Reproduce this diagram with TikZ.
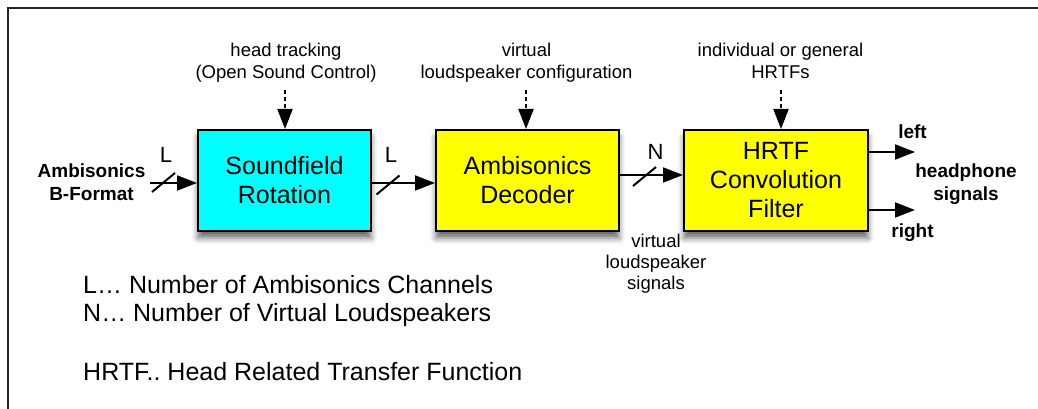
\documentclass[tikz,border=0pt]{standalone}
\usepackage{fontspec}
\setmainfont{Liberation Sans}
\usetikzlibrary{arrows.meta,calc,shadows.blur}
\definecolor{rotcyan}{RGB}{0,255,255}
\definecolor{blockyellow}{RGB}{255,255,0}
\frenchspacing

\tikzset{
  block/.style={draw=black, line width=2pt, minimum height=101pt, inner sep=0pt,
    align=center, font=\fontsize{25}{29}\selectfont,
    blur shadow={shadow xshift=0pt, shadow yshift=-7pt, shadow blur radius=6pt, shadow opacity=60}},
  flow/.style={line width=2pt, -{Triangle[length=20pt,width=15pt]}},
  ctrl/.style={line width=2pt, dash pattern=on 4pt off 3pt, -{Triangle[length=20pt,width=15pt]}},
  note/.style={align=center, inner sep=0pt, font=\fontsize{18.5}{22}\selectfont},
  tag/.style={align=center, inner sep=0pt, font=\bfseries\fontsize{19}{23}\selectfont},
  bus/.style={inner sep=0pt, font=\fontsize{22}{26}\selectfont},
  legend/.style={anchor=base west, inner sep=0pt, font=\fontsize{25}{29}\selectfont},
}

\begin{document}
\begin{tikzpicture}[x=1pt,y=-1pt]
  \useasboundingbox (0,0) rectangle (1038,409);
  \draw[line width=2pt, black!85] (8,409) -- (8,8) -- (1038,8);

  % processing blocks
  \node[block, fill=rotcyan, minimum width=173pt] (rot) at (284.5,180.5) {Soundfield\\Rotation};
  \node[block, fill=blockyellow, minimum width=183pt] (dec) at (527.5,180.5) {Ambisonics\\Decoder};
  \node[block, fill=blockyellow, minimum width=184pt] (hrtf) at (776,180.5) {HRTF\\Convolution\\Filter};

  % control inputs
  \node[note] (trk) at (286,62.5) {head tracking\\(Open Sound Control)};
  \node[note] (cfg) at (526.5,62.5) {virtual\\loudspeaker configuration};
  \node[note] (hrtfs) at (780.5,60.5) {individual or general\\HRTFs};
  \coordinate (trkin) at (285,90);
  \coordinate (cfgin) at (526,90);
  \coordinate (hrtfin) at (781,90);
  \draw[ctrl] (trkin) -- (trkin |- rot.north);
  \draw[ctrl] (cfgin) -- (cfgin |- dec.north);
  \draw[ctrl] (hrtfin) -- (hrtfin |- hrtf.north);

  % signal path
  \node[tag] (src) at (91.5,182) {Ambisonics\\B-Format};
  \coordinate (bin) at (150,183);
  \draw[flow] (bin) -- (bin -| rot.west);
  \draw[flow] ([yshift=-2.5pt]rot.east) -- ([yshift=-2.5pt]dec.west);
  \draw[flow] ([yshift=5.5pt]dec.east) -- ([yshift=5.5pt]hrtf.west);
  \foreach \x/\y in {163.5/182.5, 388/185, 644.5/176.5}
    \draw[line width=2pt] (\x-11.5,\y+9.5) -- (\x+11.5,\y-9.5);
  \node[bus] (l1) at (166,155) {L};
  \node[bus] (l2) at (391,155) {L};
  \node[bus] (n1) at (655.5,152) {N};
  \node[note, font=\fontsize{18.5}{21}\selectfont] (vls) at (656,263.5) {virtual\\loudspeaker\\signals};

  % headphone outputs
  \coordinate (outl) at (915,152);
  \coordinate (outr) at (915,210);
  \draw[flow] (outl -| hrtf.east) -- (outl);
  \draw[flow] (outr -| hrtf.east) -- (outr);
  \node[tag] (left) at (912.5,132) {left};
  \node[tag] (hp) at (966,184) {headphone\\signals};
  \node[tag] (right) at (912.5,233) {right};

  % legend
  \node[legend] (legl) at (83,293) {L… Number of Ambisonics Channels};
  \node[legend] (legn) at (83,321) {N… Number of Virtual Loudspeakers};
  \node[legend] (legh) at (83,380) {HRTF.. Head Related Transfer Function};
\end{tikzpicture}
\end{document}
